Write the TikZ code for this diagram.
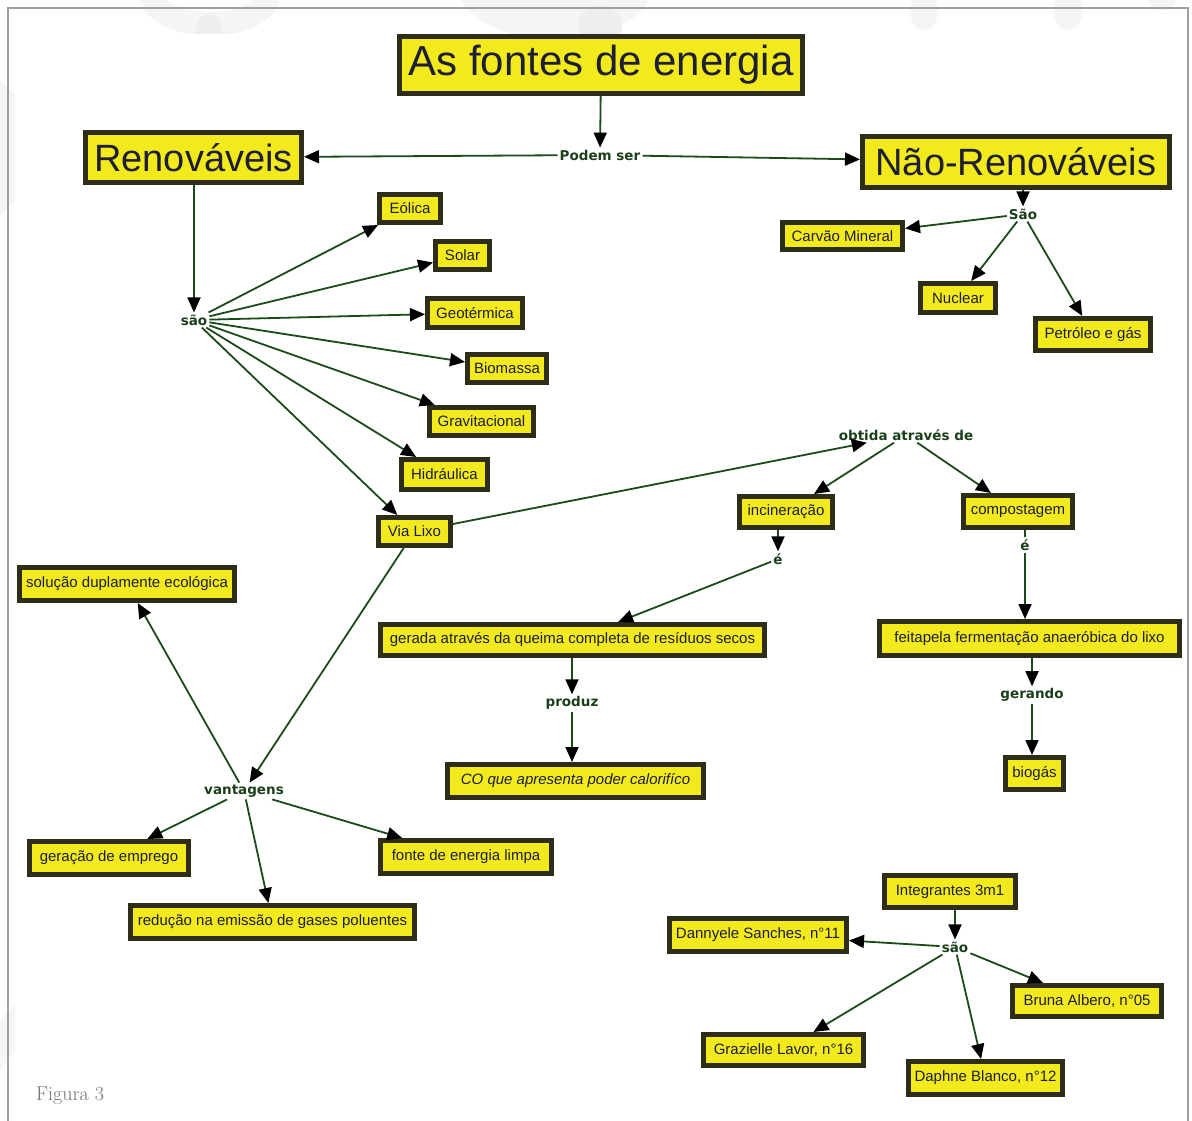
\documentclass[tikz,border=0pt]{standalone}
\usepackage{fontspec}
\newfontfamily\boxfont{Liberation Sans}
\newfontfamily\lblfont{DejaVu Sans}
\usetikzlibrary{arrows.meta}
\definecolor{yel}{HTML}{F2EA1D}
\definecolor{bord}{HTML}{2E2E18}
\definecolor{navy}{HTML}{27277A}
\definecolor{txt}{HTML}{1E1E36}
\definecolor{linec}{HTML}{1B4A1B}
\definecolor{lblc}{HTML}{1A3F1A}
\definecolor{wm}{HTML}{F5F5F5}
\definecolor{wmd}{HTML}{EEEEEE}
\newcommand\bx[7]{\node[cbox,minimum width={(#4-#2-5)*1pt},minimum height={(#5-#3-5)*1pt},font={#6}] (#1) at ({(#2+#4)/2},{(#3+#5)/2}) {#7};}
\newcommand\smallboxfont{\boxfont\fontsize{15}{18}\selectfont}
\newcommand\bigboxfont{\boxfont\fontsize{38}{44}\selectfont}
\begin{document}
\begin{tikzpicture}[x=1pt,y=-1pt,
  cbox/.style={draw=bord,fill=yel,line width=5pt,inner sep=0pt,text=txt},
  lbl/.style={font=\lblfont\bfseries\fontsize{13.5}{15}\selectfont,text=lblc,inner sep=2pt},
  arr/.style={draw=linec,line width=1.8pt,-{Triangle[length=15pt,width=13pt,color=black]}},
  plain/.style={draw=linec,line width=1.8pt}]
\useasboundingbox (0,0) rectangle (1192,1121);
\fill[white] (0,0) rectangle (1192,1121);
% faint watermark shapes
\begin{scope}
\clip (0,0) rectangle (1192,34);
\fill[wm] (210,-8) ellipse [x radius=72, y radius=44];
\fill[white] (210,-10) ellipse [x radius=48, y radius=22];
\fill[wmd] (209,30) ellipse [x radius=13, y radius=16];
\fill[wm] (555,-20) ellipse [x radius=100, y radius=60];
\fill[wmd] (600,26) ellipse [x radius=22, y radius=20];
\fill[wm] (924,10) ellipse [x radius=14, y radius=20];
\fill[wm] (1068,10) ellipse [x radius=15, y radius=20];
\fill[wm] (1162,0) ellipse [x radius=14, y radius=10];
\end{scope}
\fill[wm] (0,80) -- (15,95) -- (15,200) -- (0,215) -- cycle;
\fill[wm] (0,1020) -- (15,1005) -- (15,1050) -- (0,1070) -- cycle;
\draw[gray!75,line width=1.5pt] (8,1121) -- (8,8) -- (1188,8) -- (1188,1121);
% boxes
\bx{title}{397}{34}{805}{96}{\boxfont\fontsize{42}{48}\selectfont\color{navy}}{As fontes de energia}
\bx{ren}{83}{130}{304}{185}{\bigboxfont\color{navy}}{Renováveis}
\bx{nren}{860}{134}{1172}{190}{\bigboxfont\color{navy}}{Não-Renováveis}
\bx{carvao}{780}{220}{905}{252}{\smallboxfont}{Carvão Mineral}
\bx{nuclear}{918}{281}{998}{315}{\smallboxfont}{Nuclear}
\bx{petro}{1033}{316}{1153}{353}{\smallboxfont}{Petróleo e gás}
\bx{eolica}{377}{192}{443}{225}{\smallboxfont}{Eólica}
\bx{solar}{433}{239}{492}{272}{\smallboxfont}{Solar}
\bx{geo}{425}{296}{525}{330}{\smallboxfont}{Geotérmica}
\bx{bio}{465}{352}{549}{385}{\smallboxfont}{Biomassa}
\bx{grav}{427}{405}{536}{438}{\smallboxfont}{Gravitacional}
\bx{hidr}{399}{457}{490}{492}{\smallboxfont}{Hidráulica}
\bx{vialixo}{376}{515}{453}{548}{\smallboxfont}{Via Lixo}
\bx{incin}{737}{494}{835}{530}{\smallboxfont}{incineração}
\bx{compost}{961}{493}{1075}{530}{\smallboxfont}{compostagem}
\bx{gerada}{378}{622}{767}{658}{\smallboxfont}{gerada através da queima completa de resíduos secos}
\bx{feita}{877}{619}{1182}{658}{\smallboxfont}{feitapela fermentação anaeróbica do lixo}
\bx{biogas}{1003}{755}{1066}{792}{\smallboxfont}{biogás}
\bx{co}{445}{762}{706}{800}{\smallboxfont\itshape}{CO que apresenta poder calorifíco}
\bx{solucao}{17}{565}{237}{603}{\smallboxfont}{solução duplamente ecológica}
\bx{geracao}{27}{839}{191}{877}{\smallboxfont}{geração de emprego}
\bx{reducao}{128}{903}{417}{941}{\smallboxfont}{redução na emissão de gases poluentes}
\bx{fonte}{378}{838}{554}{876}{\smallboxfont}{fonte de energia limpa}
\bx{integ}{882}{873}{1018}{910}{\smallboxfont}{Integrantes 3m1}
\bx{dann}{667}{916}{849}{954}{\smallboxfont}{Dannyele Sanches, n°11}
\bx{bruna}{1010}{983}{1164}{1019}{\smallboxfont}{Bruna Albero, n°05}
\bx{graz}{701}{1032}{866}{1068}{\smallboxfont}{Grazielle Lavor, n°16}
\bx{daph}{906}{1059}{1065}{1097}{\smallboxfont}{Daphne Blanco, n°12}
% linking labels
\node[lbl] (podem) at (600,155) {Podem ser};
\node[lbl] (sao1) at (1023,214) {São};
\node[lbl] (sao2) at (194,320) {são};
\node[lbl] (obtida) at (906,435) {obtida através de};
\node[lbl] (e1) at (778,559) {é};
\node[lbl] (e2) at (1025,545) {é};
\node[lbl] (gerando) at (1032,695) {gerando};
\node[lbl] (produz) at (572,703) {produz};
\node[lbl] (vant) at (244,791) {vantagens};
\node[lbl] (sao3) at (955,947) {são};
% connectors
\draw[arr] (title) -- (podem);
\draw[arr] (podem) -- (ren);
\draw[arr] (podem) -- (nren);
\draw[arr] (nren.south -| sao1) -- (sao1);
\draw[arr] (sao1) -- (carvao);
\draw[arr] (sao1) -- (nuclear);
\draw[arr] (sao1) -- (petro);
\draw[arr] (ren.south -| sao2) -- (sao2);
\draw[arr] (sao2) -- (eolica);
\draw[arr] (sao2) -- (solar);
\draw[arr] (sao2) -- (geo);
\draw[arr] (sao2) -- (bio);
\draw[arr] (sao2) -- (grav);
\draw[arr] (sao2) -- (hidr);
\draw[arr] (sao2) -- (vialixo);
\draw[arr] (vialixo) -- (obtida);
\draw[arr] (obtida) -- (incin);
\draw[arr] (obtida) -- (compost);
\draw[arr] (incin.south -| e1) -- (e1);
\draw[arr] (e1) -- (gerada);
\draw[plain] (compost.south -| e2) -- (e2);
\draw[arr] (e2) -- (e2 |- feita.north);
\draw[arr] (feita.south -| gerando) -- (gerando);
\draw[arr] (gerando) -- (gerando |- biogas.north);
\draw[arr] (gerada.south -| produz) -- (produz);
\draw[arr] (produz) -- (produz |- co.north);
\draw[arr] (vialixo) -- (vant);
\draw[arr] (vant) -- (solucao);
\draw[arr] (vant) -- (geracao);
\draw[arr] (vant) -- (reducao);
\draw[arr] (vant) -- (fonte);
\draw[arr] (integ.south -| sao3) -- (sao3);
\draw[arr] (sao3) -- (dann);
\draw[arr] (sao3) -- (bruna);
\draw[arr] (sao3) -- (graz);
\draw[arr] (sao3) -- (daph);
\node[font=\fontsize{20}{23}\selectfont,text=gray!90!black,anchor=west,inner sep=0pt] (fig) at (36,1096) {Figura 3};
\end{tikzpicture}
\end{document}
